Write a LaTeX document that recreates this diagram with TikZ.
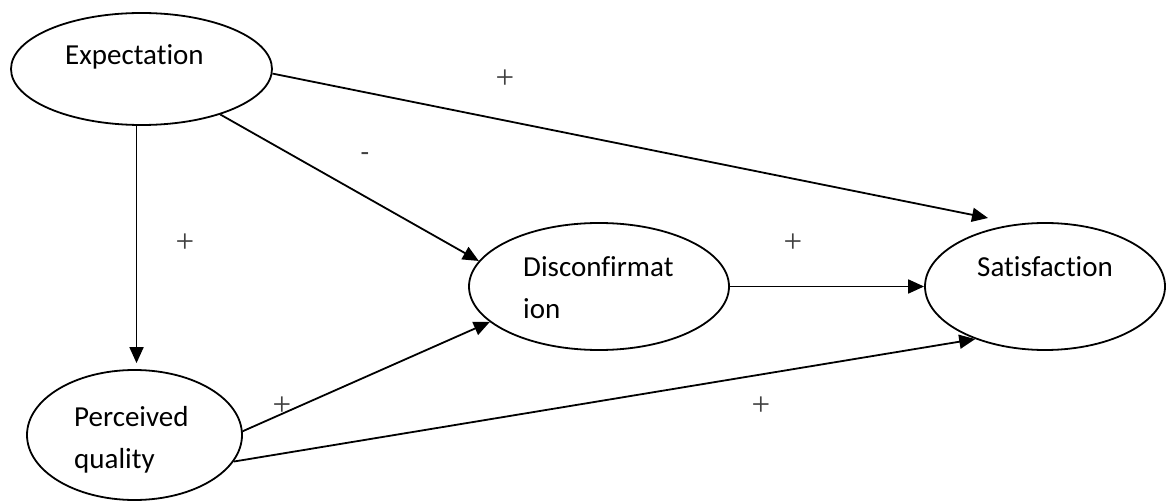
\documentclass[tikz,border=0pt]{standalone}
\usepackage{fontspec}
\setmainfont{Carlito}[RawFeature={-liga;-clig;-dlig}]
\newfontfamily\plusfont{Liberation Serif}
\usetikzlibrary{arrows.meta,shapes.geometric}
\begin{document}
\begin{tikzpicture}[x=1pt,y=-1pt,
  oval/.style={draw,ellipse,line width=1.8pt,inner sep=0pt},
  txt/.style={anchor=base west,inner sep=0pt,font=\fontsize{29}{42}\selectfont},
  link/.style={line width=1.8pt,-{Triangle[length=16pt,width=14pt]}},
  sign/.style={inner sep=0pt,text=black!75,font=\plusfont\fontsize{33}{33}\selectfont}]
\useasboundingbox (0,0) rectangle (1166,502);
% ellipses
\node[oval,minimum width=261pt,minimum height=112pt] (E) at (141.5,69) {};
\node[oval,minimum width=260pt,minimum height=127pt] (D) at (599,286.5) {};
\node[oval,minimum width=240pt,minimum height=127pt] (S) at (1045,286.5) {};
\node[oval,minimum width=215pt,minimum height=130pt] (P) at (134.5,435) {};
% texts (base = baseline of last line)
\node[txt] (tE) at (65,65) {Expectation};
\node[txt,align=left] (tD) at (523,319) {Disconfirmat\\ion};
\node[txt] (tS) at (977,277) {Satisfaction};
\node[txt,align=left] (tP) at (74,468) {Perceived\\quality};
% free end
\coordinate (es) at (988,218);
% connectors
\draw[link] (E.-2) -- (es);
\draw[link] (E.-30) -- (D.168);
\draw[link,shorten >=6pt] (E.-95) -- (E.-95 |- P.north);
\draw[link] (D) -- (S);
\draw[link] (P.2) -- (D.198);
\draw[link] (P.-15) -- (S.217);
% signs
\node[sign] (s1) at (505,79) {+};
\node[sign,font=\fontsize{28}{28}\selectfont] (s2) at (365,157) {-};
\node[sign] (s3) at (185,243) {+};
\node[sign] (s4) at (793,243) {+};
\node[sign] (s5) at (282,406) {+};
\node[sign] (s6) at (761,406) {+};
\end{tikzpicture}
\end{document}
